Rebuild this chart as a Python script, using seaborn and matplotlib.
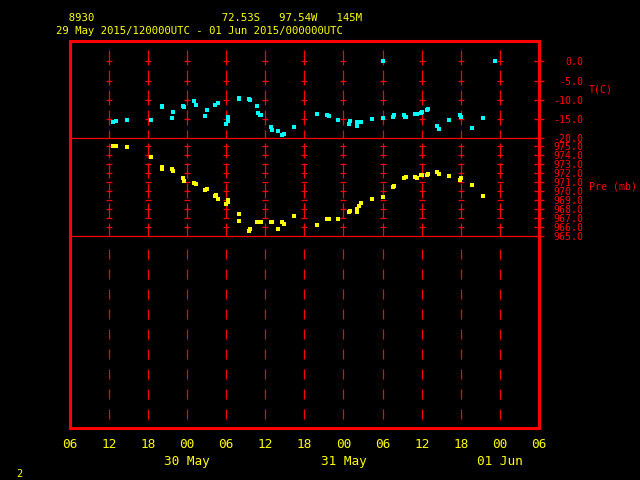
import matplotlib
matplotlib.use("Agg")
import matplotlib.pyplot as plt
import seaborn as sns
import pandas as pd

# ---------------- data (hours since 2015-05-29 00 UTC) ----------------
temp_hours = [12.7, 13.1, 14.8, 18.4, 20.1, 20.2, 21.7, 21.9, 23.4, 23.6,
              25.1, 25.3, 26.7, 27.0, 28.3, 28.8, 30.0, 30.2, 30.3, 31.9,
              32.0, 33.5, 33.7, 34.8, 34.9, 35.2, 35.4, 36.9, 37.1, 38.0,
              38.6, 38.8, 40.4, 43.9, 45.5, 45.8, 47.2, 48.9, 49.0, 50.0,
              50.1, 50.7, 52.3, 52.4, 54.1, 54.1, 55.6, 55.8, 57.3, 57.5,
              57.6, 59.0, 59.3, 59.9, 60.1, 60.8, 61.0, 62.4, 62.7, 64.2,
              65.9, 66.0, 67.7, 69.4, 71.3]
temp_c = [-15.7, -15.4, -15.2, -15.2, -11.8, -11.5, -14.6, -13.1, -11.6, -11.9,
          -10.3, -11.4, -14.2, -12.6, -11.4, -10.8, -16.3, -15.4, -14.5, -9.5,
          -9.8, -9.8, -10.1, -11.6, -13.4, -13.9, -13.9, -17.1, -17.8, -18.1,
          -19.1, -18.9, -17.1, -13.7, -13.9, -14.2, -15.2, -16.3, -15.5, -16.8,
          -15.8, -15.8, -15.0, -15.0, 0.0, -14.7, -14.5, -13.9, -13.9, -14.5,
          -14.5, -13.7, -13.7, -13.4, -13.2, -12.6, -12.4, -16.8, -17.6, -15.2,
          -13.9, -14.5, -17.4, -14.7, 0.0]

pres_hours = [12.6, 13.1, 14.8, 18.4, 20.1, 20.2, 21.7, 21.9, 23.4, 23.6,
              25.1, 25.3, 26.7, 27.0, 28.3, 28.5, 28.8, 30.0, 30.2, 30.3,
              31.9, 32.0, 33.5, 33.7, 34.8, 35.1, 35.4, 36.9, 37.1, 38.0,
              38.6, 38.8, 40.4, 44.0, 45.5, 45.8, 47.2, 48.9, 49.0, 50.0,
              50.1, 50.4, 50.7, 52.3, 52.4, 54.1, 55.6, 55.8, 57.3, 57.6,
              59.0, 59.3, 59.9, 60.1, 60.8, 61.0, 62.4, 62.7, 64.2, 65.9,
              66.0, 67.7, 69.4]
pres_mb = [975.0, 975.0, 974.9, 973.8, 972.7, 972.5, 972.5, 972.2, 971.5, 971.1,
           970.9, 970.8, 970.1, 970.2, 969.5, 969.6, 969.1, 968.6, 968.8, 969.0,
           967.5, 966.7, 965.6, 965.8, 966.6, 966.6, 966.6, 966.6, 966.6, 965.8,
           966.6, 966.4, 967.2, 966.3, 966.9, 966.9, 966.9, 967.7, 967.8, 967.7,
           968.0, 968.4, 968.7, 969.1, 969.1, 969.4, 970.5, 970.6, 971.5, 971.6,
           971.6, 971.5, 971.8, 971.8, 971.8, 971.9, 972.1, 971.9, 971.7, 971.2,
           971.5, 970.7, 969.5]

x_ticks = [6, 12, 18, 24, 30, 36, 42, 48, 54, 60, 66, 72, 78]
x_labels = ["06", "12", "18", "00\n30 May", "06", "12", "18", "00\n31 May",
            "06", "12", "18", "00\n01 Jun", "06"]
t_ticks = [0, -5, -10, -15, -20]
t_labels = ["0.0", "-5.0", "-10.0", "-15.0", "-20.0"]
p_ticks = [975, 974, 973, 972, 971, 970, 969, 968, 967, 966, 965]
p_labels = ["975.0", "974.0", "973.0", "972.0", "971.0", "970.0",
            "969.0", "968.0", "967.0", "966.0", "965.0"]
header1 = "  8930                    72.53S   97.54W   145M"
header2 = "29 May 2015/120000UTC - 01 Jun 2015/000000UTC"

RED, YEL, CYAN = "#ff0000", "#ffff00", "#00ffff"

sns.set_theme(style="dark", rc={"axes.facecolor": "black",
                                "figure.facecolor": "black"})
plt.rcParams["font.family"] = ["DejaVu Sans Mono", "DejaVu Sans"]
plt.rcParams["lines.scale_dashes"] = False

W, H = 640.0, 480.0
x0, x1 = 69.8, 539.0
top, tline, pline, bot = 41.3, 138.3, 236.3, 428.0
t_top = 5.19
p_top = 975.85
LW = 0.9

fig = plt.figure(figsize=(6.4, 4.8), dpi=100, facecolor="black")
aw = (x1 - x0) / W

# ---- frame axes ----
ax_f = fig.add_axes([x0 / W, 1 - bot / H, aw, (bot - top) / H])
ax_f.set_facecolor("black")
ax_f.grid(False)
ax_f.set_xlim(x_ticks[0], x_ticks[-1])
ax_f.set_ylim(0, 1)
ax_f.set_xticks(x_ticks, labels=x_labels)
ax_f.set_yticks([])
ax_f.tick_params(axis="x", length=0, pad=7.4, labelcolor=YEL, labelsize=9.2)
for lbl in ax_f.get_xticklabels():
    lbl.set_linespacing(1.36)
for s in ax_f.spines.values():
    s.set_visible(True)
    s.set_color(RED)
    s.set_linewidth(2.2)
grid_hours = x_ticks[1:-1]
ax_f.vlines(grid_hours, (bot - 249.0) / (bot - top), 0, colors=RED,
            linewidth=LW, linestyles=[(0, (7.2, 7.2))])

def overlay(ybot_px, ytop_px):
    ax = fig.add_axes([x0 / W, 1 - ybot_px / H, aw, (ybot_px - ytop_px) / H])
    ax.patch.set_alpha(0)
    ax.grid(False)
    ax.set_xlim(x_ticks[0], x_ticks[-1])
    ax.set_xticks([])
    for s in ax.spines.values():
        s.set_visible(False)
    ax.yaxis.tick_right()
    ax.yaxis.set_label_position("right")
    ax.tick_params(axis="y", direction="inout", length=7.2, width=1.0,
                   color=RED, labelcolor=RED, labelsize=7.1, pad=28.1,
                   left=False, right=True, labelleft=False, labelright=True)
    return ax

# ---- temperature panel ----
ax_t = overlay(tline, top)
ax_t.set_ylim(-20, t_top)
ax_t.set_yticks(t_ticks, labels=t_labels, ha="right")
ax_t.axhline(-20, color=RED, linewidth=LW, clip_on=False)
ax_t.vlines(grid_hours, 2.94, -20, colors=RED, linewidth=LW,
            linestyles=[(0, (10.8, 3.6))], zorder=1)
cx = [h for v in t_ticks[:-1] for h in grid_hours]
cy = [v for v in t_ticks[:-1] for h in grid_hours]
ax_t.scatter(cx, cy, marker="_", s=25, color=RED, linewidths=LW, zorder=1)
sns.scatterplot(x=temp_hours, y=temp_c, ax=ax_t, color=CYAN, marker="s",
                s=11, linewidth=0, legend=False, zorder=3)
ax_t.set_ylabel("T(C)", rotation=0, ha="left", va="center", color=RED,
                fontsize=7.1)
ax_t.yaxis.set_label_coords((589 - x0) / (x1 - x0), (tline - 90) / (tline - top))
ax_t.set_xlabel("")

# ---- pressure panel ----
ax_p = overlay(pline, tline)
ax_p.set_ylim(965, p_top)
ax_p.set_yticks(p_ticks, labels=p_labels, ha="right")
ax_p.axhline(965, color=RED, linewidth=LW, clip_on=False)
ax_p.vlines(grid_hours, p_top, 965, colors=RED, linewidth=LW,
            linestyles=[(10.8, (10.8, 3.6))], zorder=1)
px = [h for v in p_ticks[:-1] for h in grid_hours]
py = [v for v in p_ticks[:-1] for h in grid_hours]
ax_p.scatter(px, py, marker="_", s=25, color=RED, linewidths=LW, zorder=1)
sns.scatterplot(x=pres_hours, y=pres_mb, ax=ax_p, color=YEL, marker="s",
                s=11, linewidth=0, legend=False, zorder=3)
ax_p.set_ylabel("Pre (mb)", rotation=0, ha="left", va="center", color=RED,
                fontsize=7.1)
ax_p.yaxis.set_label_coords((589 - x0) / (x1 - x0), (pline - 186.7) / (pline - tline))
ax_p.set_xlabel("")

# ---- header texts ----
fig.text(56 / W, 1 - 18 / H, header1, color=YEL, fontsize=7.7,
         ha="left", va="center")
fig.text(56 / W, 1 - 31.5 / H, header2, color=YEL, fontsize=7.7,
         ha="left", va="center")
fig.text(19 / W, 1 - 474 / H, "2", color=YEL, fontsize=7.5,
         ha="center", va="center")

fig.savefig("out.png", dpi=100, facecolor="black")
